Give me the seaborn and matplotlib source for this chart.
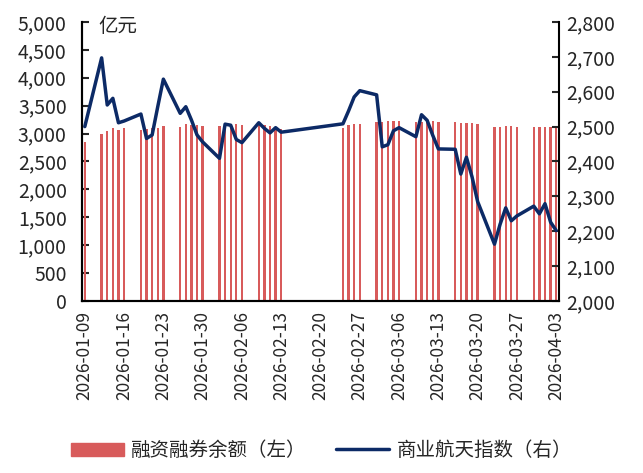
import pandas as pd
import matplotlib.pyplot as plt
import seaborn as sns
from matplotlib.patches import Patch
from matplotlib.lines import Line2D
from matplotlib.ticker import FuncFormatter

# ── Data ───────────────────────────────────────────────────
trade_dates = [
    '2026-01-09',
    '2026-01-12', '2026-01-13', '2026-01-14', '2026-01-15', '2026-01-16',
    '2026-01-19', '2026-01-20', '2026-01-21', '2026-01-22', '2026-01-23',
    '2026-01-26', '2026-01-27', '2026-01-28', '2026-01-29', '2026-01-30',
    '2026-02-02', '2026-02-03', '2026-02-04', '2026-02-05', '2026-02-06',
    '2026-02-09', '2026-02-10', '2026-02-11', '2026-02-12', '2026-02-13',
    '2026-02-24', '2026-02-25', '2026-02-26', '2026-02-27',
    '2026-03-02', '2026-03-03', '2026-03-04', '2026-03-05', '2026-03-06',
    '2026-03-09', '2026-03-10', '2026-03-11', '2026-03-12', '2026-03-13',
    '2026-03-16', '2026-03-17', '2026-03-18', '2026-03-19', '2026-03-20',
    '2026-03-23', '2026-03-24', '2026-03-25', '2026-03-26', '2026-03-27',
    '2026-03-30', '2026-03-31', '2026-04-01', '2026-04-02', '2026-04-03',
]
margin_balance = [
    2846,
    2990, 3048, 3097, 3072, 3108,
    3066, 3075, 3097, 3108, 3138,
    3125, 3165, 3160, 3150, 3130,
    3138, 3150, 3157, 3172, 3157,
    3157, 3150, 3140, 3120, 3090,
    3100, 3145, 3170, 3172,
    3210, 3215, 3220, 3225, 3225,
    3205, 3215, 3230, 3230, 3215,
    3210, 3197, 3195, 3186, 3172,
    3115, 3120, 3130, 3130, 3120,
    3115, 3115, 3120, 3125, 3125,
]
aerospace_index = [
    2500,
    2697, 2562, 2581, 2511, 2516,
    2536, 2466, 2476, 2557, 2636,
    2538, 2557, 2519, 2476, 2456,
    2409, 2507, 2504, 2463, 2454,
    2511, 2495, 2482, 2497, 2484,
    2508, 2545, 2585, 2603,
    2591, 2442, 2448, 2488, 2497,
    2471, 2534, 2518, 2475, 2436,
    2435, 2364, 2412, 2356, 2285,
    2163, 2220, 2267, 2230, 2244,
    2272, 2250, 2279, 2226, 2202,
]
tick_labels = ['2026-01-09', '2026-01-16', '2026-01-23', '2026-01-30',
               '2026-02-06', '2026-02-13', '2026-02-20', '2026-02-27',
               '2026-03-06', '2026-03-13', '2026-03-20', '2026-03-27',
               '2026-04-03']

bar_color = '#D85B5B'
line_color = '#0C2A66'

start = pd.Timestamp('2026-01-09')
df = pd.DataFrame({'date': pd.to_datetime(trade_dates),
                   'margin': margin_balance,
                   'index': aerospace_index})
# day position, bars sit in the middle of each day
df['pos'] = (df['date'] - start).dt.days + 0.5

# ── Plot ───────────────────────────────────────────────────
sns.set_style('white')
plt.rcParams['font.family'] = ['Noto Sans CJK SC', 'DejaVu Sans']

fig = plt.figure(figsize=(6.43, 4.73), dpi=100)
ax = fig.add_axes([0.1275, 0.3636, 0.7419, 0.59])

sns.barplot(data=df, x='pos', y='margin', native_scale=True, width=0.42,
            color=bar_color, saturation=1, errorbar=None, linewidth=0,
            ax=ax)
ax2 = ax.twinx()
sns.lineplot(data=df, x='pos', y='index', color=line_color, linewidth=2.5,
             ax=ax2)

ax.set_xlim(0, 85)
ax.set_ylim(0, 5000)
ax2.set_ylim(2000, 2800)
ax.set_yticks(range(0, 5001, 500))
ax2.set_yticks(range(2000, 2801, 100))
fmt = FuncFormatter(lambda v, p: f'{int(v):,}')
ax.yaxis.set_major_formatter(fmt)
ax2.yaxis.set_major_formatter(fmt)

tick_pos = [(pd.Timestamp(t) - start).days for t in tick_labels]
ax.set_xticks(tick_pos)
ax.set_xticklabels([])
ax.set_xticks([p + 0.5 for p in tick_pos], minor=True)
ax.set_xticklabels(tick_labels, minor=True, rotation=90, fontsize=12.5)
ax.tick_params(axis='x', which='minor', length=0, pad=7)
ax.tick_params(axis='x', which='major', direction='in', length=5, width=1.5)
ax.tick_params(axis='y', direction='in', length=5, width=1.5,
               labelsize=14, pad=11)
ax2.tick_params(axis='y', direction='in', length=5, width=1.5,
                labelsize=14, pad=5)

for a in (ax, ax2):
    a.set_xlabel('')
    a.set_ylabel('')
    a.spines['top'].set_visible(False)
    for s in ('left', 'right', 'bottom'):
        a.spines[s].set_color('black')
        a.spines[s].set_linewidth(1.5)
ax.spines['right'].set_visible(False)

ax.text(0.035, 0.982, '亿元', transform=ax.transAxes, ha='left',
        va='center', fontsize=14)

handles = [Patch(color=bar_color, label='融资融券余额（左）'),
           Line2D([0], [0], color=line_color, lw=2.5, label='商业航天指数（右）')]
fig.legend(handles=handles, loc='lower center', bbox_to_anchor=(0.5, -0.012),
           ncol=2, frameon=False, fontsize=14, handlelength=2.7,
           handleheight=0.7, columnspacing=1.5, handletextpad=0.4)

fig.savefig('out.png', dpi=100)
